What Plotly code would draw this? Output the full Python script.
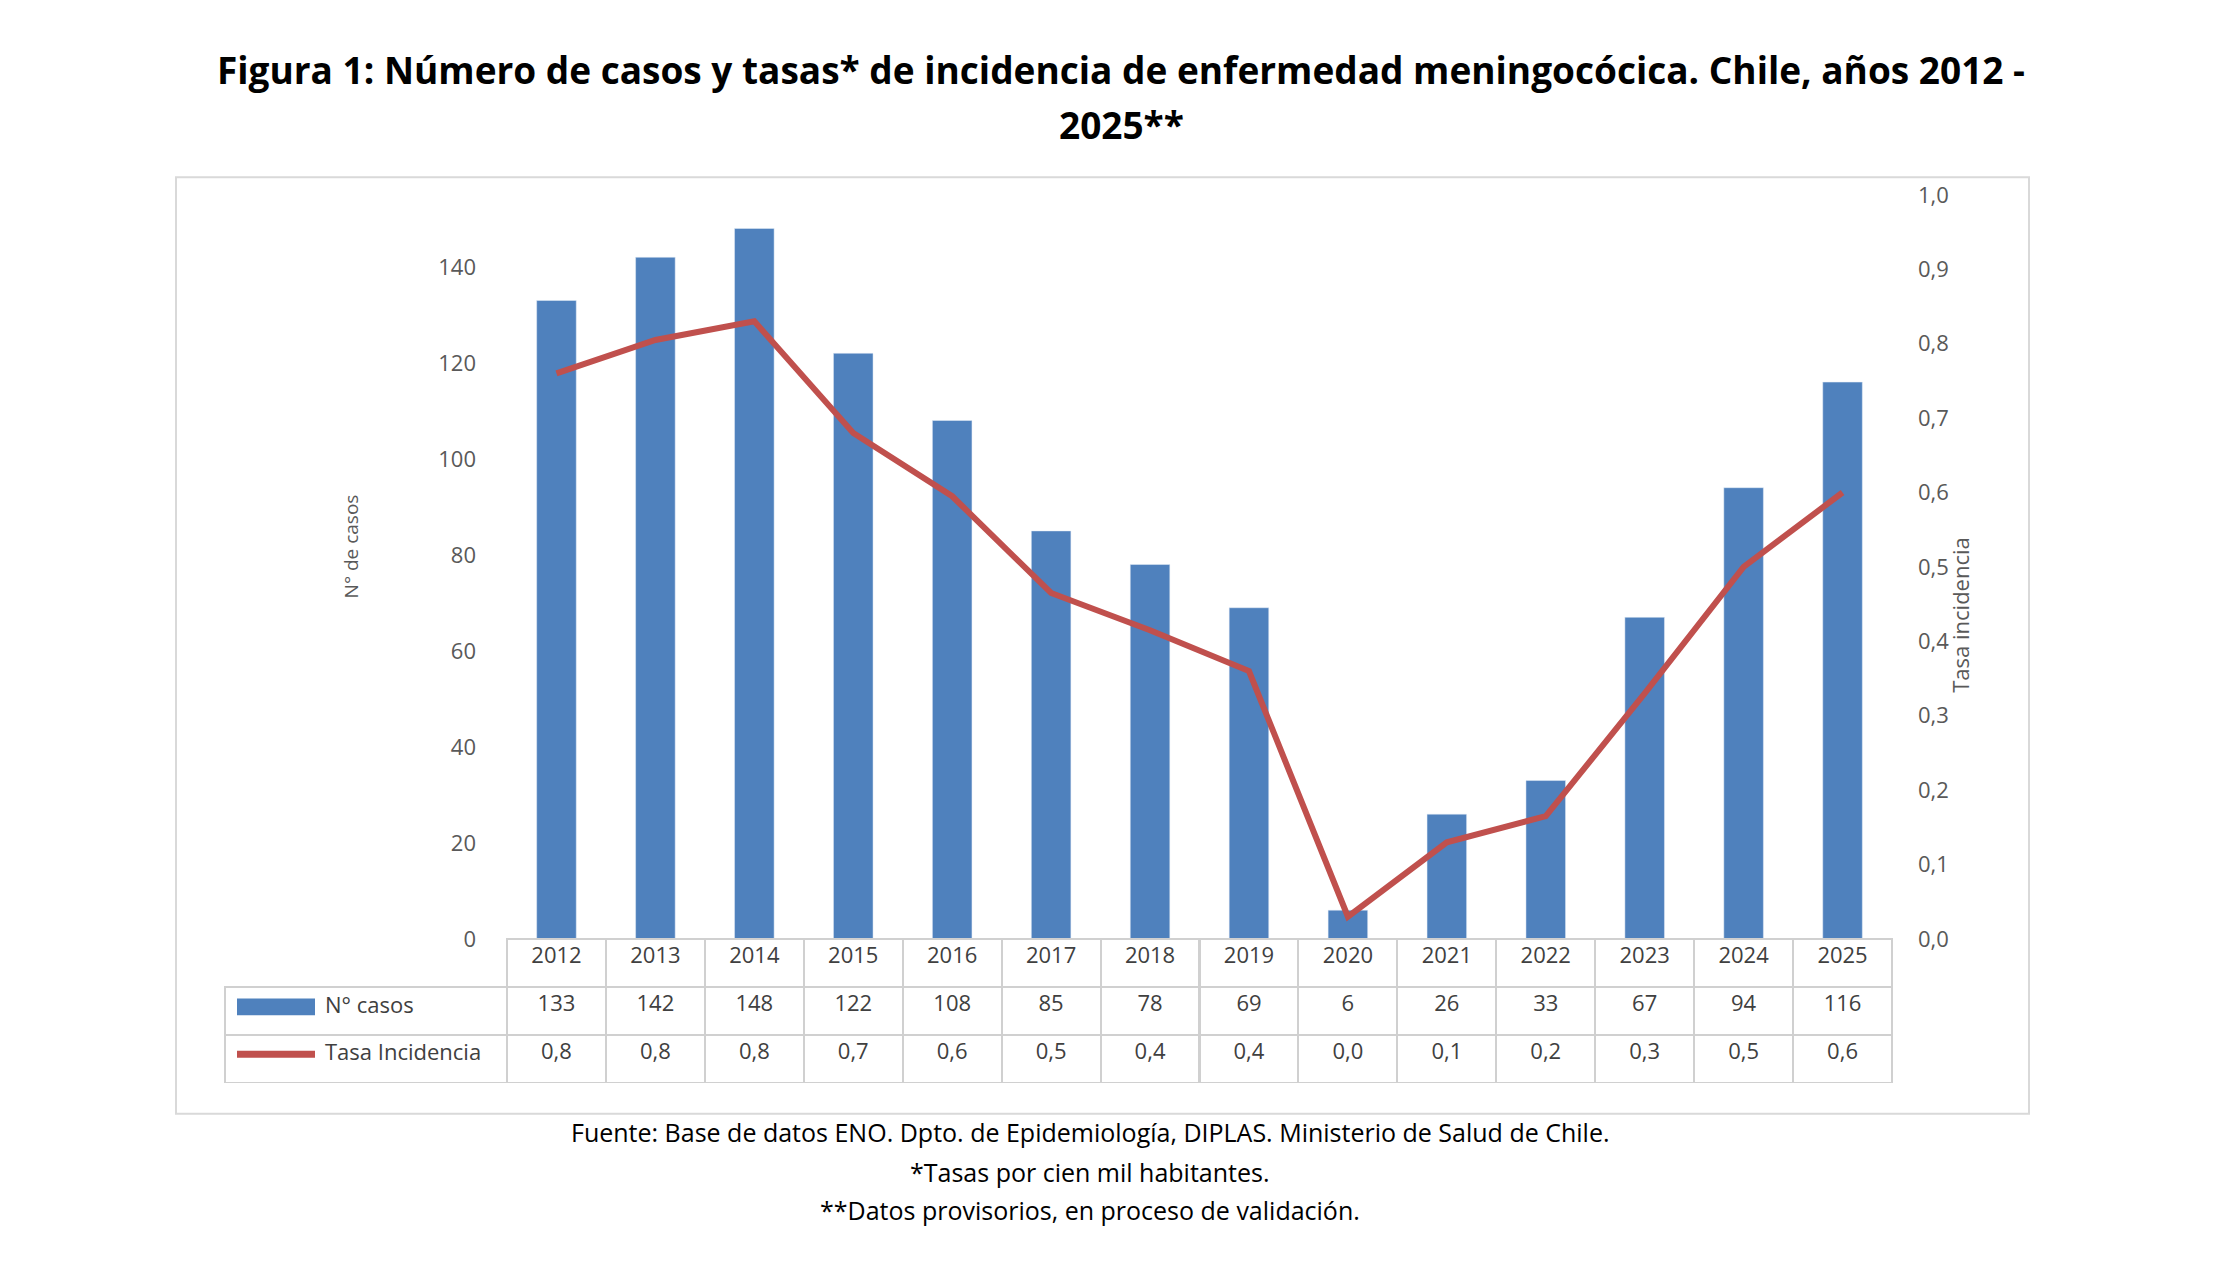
import plotly.graph_objects as go

years = [str(y) for y in range(2012, 2026)]
casos = [133, 142, 148, 122, 108, 85, 78, 69, 6, 26, 33, 67, 94, 116]
tasa = [0.76, 0.805, 0.83, 0.68, 0.595, 0.465, 0.415, 0.36, 0.03, 0.13, 0.165, 0.33, 0.5, 0.6]
tasa_tabla = ["0,8", "0,8", "0,8", "0,7", "0,6", "0,5", "0,4", "0,4", "0,0", "0,1", "0,2", "0,3", "0,5", "0,6"]

W, H = 2226, 1276
BLUE = "#4F81BD"
RED = "#C0504D"
GREY = "#595959"
FONT = "Open Sans"


def px(x):
    return x / W


def py(y):
    return 1 - y / H


fig = go.Figure()

first_col = 282
fig.add_trace(go.Table(
    domain=dict(x=[px(217), px(1884)], y=[py(1085), py(937)]),
    columnwidth=[first_col] + [1385 / 14] * 14,
    header=dict(values=[""] + years, height=48,
                line=dict(color=["rgba(0,0,0,0)"] + ["#D0D0D0"] * 14, width=2),
                fill_color=["rgba(0,0,0,0)"] + ["white"] * 14, align="center",
                font=dict(family=FONT, size=22, color="#404040")),
    cells=dict(values=[["", ""]] + [[str(c), t] for c, t in zip(casos, tasa_tabla)],
               height=48, line=dict(color="#D0D0D0", width=2), fill_color="white",
               align="center", font=dict(family=FONT, size=22, color="#404040")),
))
fig.add_trace(go.Bar(x=years, y=casos, marker_color=BLUE, width=0.4, name="N° casos"))
fig.add_trace(go.Scatter(x=years, y=tasa, mode="lines", yaxis="y2",
                         line=dict(color=RED, width=6), name="Tasa Incidencia"))

fig.update_layout(
    width=W, height=H, margin=dict(l=0, r=0, t=0, b=0),
    paper_bgcolor="white", plot_bgcolor="rgba(0,0,0,0)", showlegend=False,
    font=dict(family=FONT, color=GREY),
    xaxis=dict(domain=[px(499), px(1884)], range=[-0.5, 13.5], showticklabels=False,
               showline=False, ticks=""),
    yaxis=dict(domain=[py(937), py(175)], range=[0, 155], dtick=20, showgrid=False,
               zeroline=False, tickfont=dict(size=22, color=GREY), ticklabelstandoff=30),
    yaxis2=dict(overlaying="y", side="right", range=[0, 1.0], dtick=0.1, showgrid=False,
                zeroline=False, tickformat=".1f",
                tickfont=dict(size=22, color=GREY), ticklabelstandoff=25),
    separators=", ",
    shapes=[
        dict(type="rect", xref="paper", yref="paper", x0=px(168), x1=px(2021),
             y0=py(1116), y1=py(157), line=dict(color="#D9D9D9", width=2)),
        dict(type="rect", xref="paper", yref="paper", x0=px(229), x1=px(307),
             y0=py(1015), y1=py(998), fillcolor=BLUE, line=dict(width=0)),
        dict(type="line", xref="paper", yref="paper", x0=px(229), x1=px(307),
             y0=py(1055), y1=py(1055), line=dict(color=RED, width=7)),
    ],
    annotations=[
        dict(text="<b>Figura 1: Número de casos y tasas* de incidencia de enfermedad meningocócica. Chile, años 2012 -</b>",
             x=0.5, y=py(18), xref="paper", yref="paper", showarrow=False,
             font=dict(size=37, color="black")),
        dict(text="<b>2025**</b>", x=0.5, y=py(75), xref="paper", yref="paper",
             showarrow=False, font=dict(size=37, color="black")),
        dict(text="N° de casos", textangle=-90, x=px(328), y=py(535), xref="paper",
             yref="paper", showarrow=False, font=dict(size=19, color=GREY)),
        dict(text="Tasa incidencia", textangle=-90, x=px(1969), y=py(605), xref="paper",
             yref="paper", showarrow=False, font=dict(size=22, color=GREY)),
        dict(text="N° casos", x=px(315), y=py(1021), xref="paper", yref="paper",
             xanchor="left", showarrow=False, font=dict(size=22, color="#404040")),
        dict(text="Tasa Incidencia", x=px(315), y=py(1069), xref="paper", yref="paper",
             xanchor="left", showarrow=False, font=dict(size=22, color="#404040")),
        dict(text="Fuente: Base de datos ENO. Dpto. de Epidemiología, DIPLAS. Ministerio de Salud de Chile.",
             x=px(1082), y=py(1154), xref="paper", yref="paper", showarrow=False,
             font=dict(size=25, color="black")),
        dict(text="*Tasas por cien mil habitantes.", x=px(1082), y=py(1195), xref="paper",
             yref="paper", showarrow=False, font=dict(size=25, color="black")),
        dict(text="**Datos provisorios, en proceso de validación.", x=px(1082), y=py(1234),
             xref="paper", yref="paper", showarrow=False, font=dict(size=25, color="black")),
    ],
)

fig.write_html("out.html")
